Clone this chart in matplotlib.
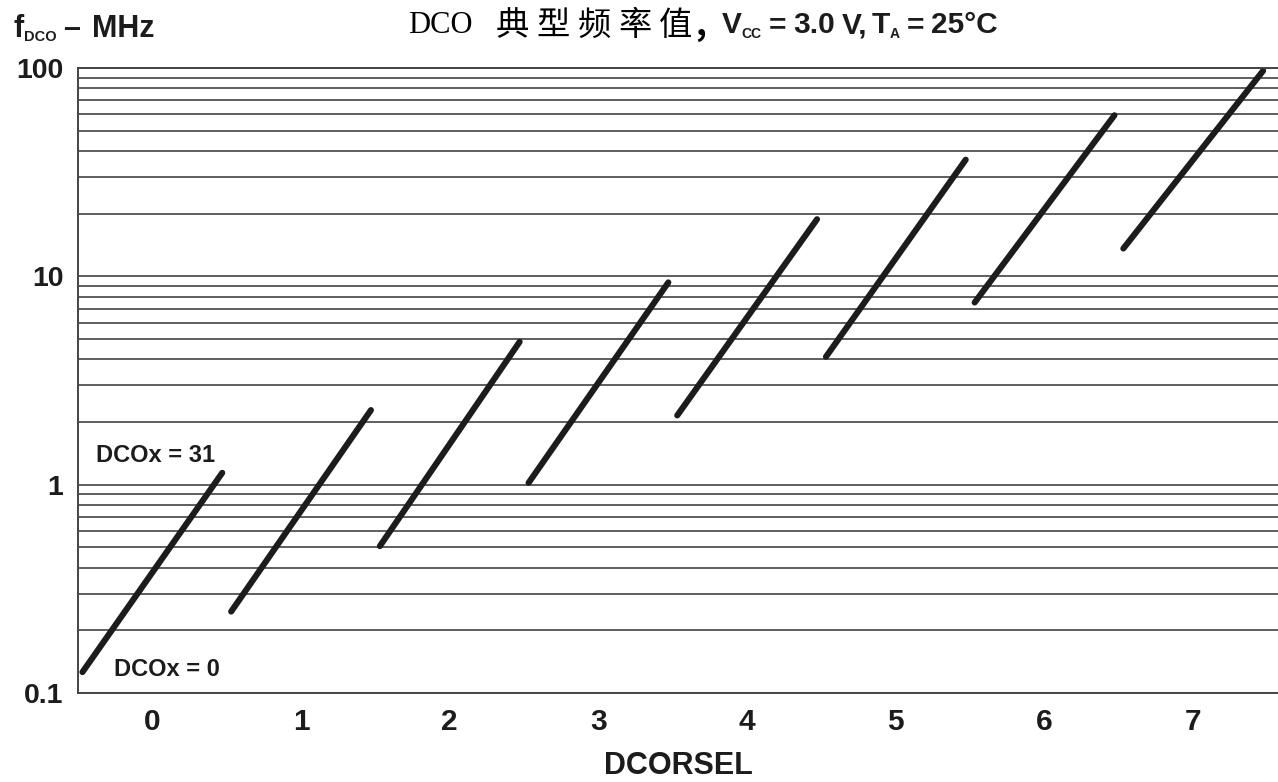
import numpy as np
import matplotlib
matplotlib.use("Agg")
import matplotlib.pyplot as plt

# Datos
dcorsel = [0, 1, 2, 3, 4, 5, 6, 7]
f_min = [0.126, 0.246, 0.507, 1.02, 2.15, 4.11, 7.49, 13.6]   # DCOx = 0
f_max = [1.14, 2.28, 4.85, 9.35, 18.8, 36.3, 59.3, 97.0]      # DCOx = 31
tick_labels = ["0", "1", "2", "3", "4", "5", "6", "7"]
y_ticks = [0.1, 1, 10, 100]
y_tick_labels = ["0.1", "1", "10", "100"]
titulo_cn = ["典", "型", "频", "率", "值"]

plt.rcParams['font.family'] = ['Liberation Sans', 'DejaVu Sans']

W, H = 1278, 782
ink = '#1c1c1c'
fig = plt.figure(figsize=(W / 100, H / 100), dpi=100)
ax = fig.add_axes([78 / W, 1 - 693 / H, 1.0 - 78 / W, (693 - 68) / H])

def fx(px):
    return px / W

def fy(py):
    return 1 - py / H

half = 0.47
for k, lo, hi in zip(dcorsel, f_min, f_max):
    ax.plot([k - half, k + half], [lo, hi], color=ink, lw=4.4,
            solid_capstyle='round')

ax.set_yscale('log')
ax.set_ylim(0.1, 100)
ax.set_xlim(-0.5, 7.57)

ax.set_yticks(y_ticks)
ax.set_yticklabels(y_tick_labels, fontsize=20.5, fontweight='bold')
ax.set_xticks(dcorsel)
ax.set_xticklabels(tick_labels, fontsize=21.5, fontweight='bold')
ax.tick_params(axis='both', length=0, pad=10.5, colors=ink)
ax.tick_params(axis='y', which='minor', length=0, labelleft=False)

ax.grid(True, which='both', axis='y', color='#333333', lw=1.1)
ax.set_axisbelow(True)
for s in ['left', 'bottom', 'top']:
    ax.spines[s].set_color('#444444')
    ax.spines[s].set_linewidth(1.4)
ax.spines['right'].set_visible(False)

ax.set_xlabel('DCORSEL', fontsize=22, fontweight='bold', color=ink, labelpad=11)

ax.text(-0.377, 1.38, 'DCOx = 31', fontsize=17, fontweight='bold',
        color=ink, va='center', ha='left')
ax.text(-0.256, 0.129, 'DCOx = 0', fontsize=17, fontweight='bold',
        color=ink, va='center', ha='left')

renderer = fig.canvas.get_renderer()

def runs(x, base, parts):
    # texto con subíndices: (texto, tamaño, desplazamiento, hueco previo)
    for s, size, dy, gap in parts:
        x += gap
        t = fig.text(fx(x), fy(base + dy), s, fontsize=size, fontweight='bold',
                     color=ink, va='baseline', ha='left')
        x += t.get_window_extent(renderer=renderer).width

# Etiqueta del eje y arriba a la izquierda
runs(13, 37, [('f', 22, 0, 0), ('DCO', 10.5, 4, 1), ('–', 22, 0, 6),
              ('MHz', 22, 0, 12)])

# Título
fig.text(fx(408), fy(33), 'DCO', fontsize=22, family='Liberation Serif',
         color='black', va='baseline', ha='left')
for i, ch in enumerate(titulo_cn):
    fig.text(fx(512 + 41 * i), fy(35), ch, fontsize=24, fontweight='medium',
             family='Noto Sans CJK SC', color='black', va='baseline',
             ha='center')
fig.text(fx(695), fy(35), ',', fontsize=24, fontweight='bold',
         family='Noto Sans CJK SC', color='black', va='baseline', ha='left')
runs(722, 33, [('V', 21.5, 0, 0), ('CC', 10, 5, 0), ('=', 21.5, 0, 7),
               ('3.0', 21.5, 0, 7), ('V,', 21.5, 0, 7), ('T', 21.5, 0, 4),
               ('A', 10, 5, 0), ('=', 21.5, 0, 7), ('25°C', 21.5, 0, 7)])

fig.savefig('out.png', dpi=100)
